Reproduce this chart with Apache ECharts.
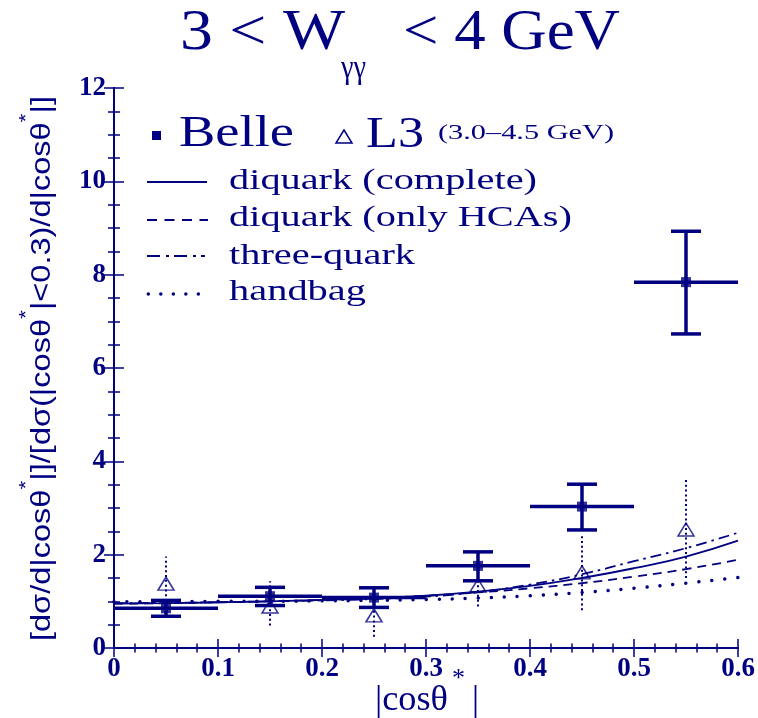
<!DOCTYPE html>
<html>
<head>
<meta charset="utf-8">
<script src="https://cdn.jsdelivr.net/npm/echarts@6/dist/echarts.min.js"></script>
<style>
  html, body { margin: 0; padding: 0; background: #ffffff; }
  #chart { width: 758px; height: 718px; }
</style>
</head>
<body>
<div id="chart"></div>
<script>
// ---- data -------------------------------------------------------------
// |cos theta*| bins (centres and half width)
const binCenters = [0.05, 0.15, 0.25, 0.35, 0.45, 0.55];
const binHalfWidth = 0.05;

// Belle normalised cross section with error band
const belleY    = [0.85, 1.11, 1.08, 1.76, 3.03, 7.84];
const belleLow  = [0.68, 0.91, 0.87, 1.44, 2.53, 6.73];
const belleHigh = [1.02, 1.30, 1.29, 2.06, 3.51, 8.93];

// L3 (3.0-4.5 GeV)
const l3Y    = [1.38, 0.89, 0.70, 1.34, 1.62, 2.54];
const l3Low  = [0.80, 0.48, 0.24, 0.89, 0.81, 1.50];
const l3High = [1.96, 1.43, 1.10, 1.75, 2.43, 3.66];

// theory curves sampled in |cos theta*|
const curveX          = [0, 0.05, 0.1, 0.15, 0.2, 0.25, 0.3, 0.35, 0.4, 0.45, 0.5, 0.55, 0.6];
const diquarkComplete = [0.95, 0.96, 0.98, 1.00, 1.03, 1.06, 1.12, 1.21, 1.33, 1.50, 1.71, 1.96, 2.30];
const diquarkHCA      = [0.95, 0.96, 0.98, 1.00, 1.03, 1.07, 1.12, 1.19, 1.28, 1.39, 1.53, 1.69, 1.89];
const threeQuark      = [0.96, 0.97, 0.98, 1.00, 1.02, 1.05, 1.10, 1.20, 1.36, 1.58, 1.86, 2.14, 2.47];
const handbag         = [0.99, 0.99, 1.00, 1.00, 1.01, 1.02, 1.04, 1.07, 1.12, 1.19, 1.28, 1.39, 1.51];

// tick labels
const xTickLabels = ['0', '0.1', '0.2', '0.3', '0.4', '0.5', '0.6'];
const yTickLabels = ['0', '2', '4', '6', '8', '10', '12'];

// ---- styling helpers ----------------------------------------------------
const NAVY = '#000080';
const SERIF = '"Liberation Serif", "Times New Roman", serif';
const SANS = '"Liberation Sans", Arial, sans-serif';

const mctx = document.createElement('canvas').getContext('2d');
function textWidth(str, size, family, weight) {
  mctx.font = (weight || 'normal') + ' ' + size + 'px ' + family;
  return mctx.measureText(str).width;
}
// text placed by left edge and baseline, optionally stretched horizontally to a width
function fitText(str, size, family, left, baseline, width) {
  const w = textWidth(str, size, family);
  return {
    type: 'text', x: left, y: baseline - 0.3375 * size, scaleX: width ? width / w : 1, silent: true,
    style: { text: str, fontSize: size, fontFamily: family, fill: NAVY, align: 'left', verticalAlign: 'middle' }
  };
}

// rotated y-axis title with superscript asterisks
function yAxisTitle() {
  const mainSize = 27, supSize = 19;
  const pieces = [
    ['[dσ/d|cosθ', 0], ['*', 1], ['|]/[dσ(|cosθ', 0], ['*', 1],
    ['|<0.3)/d|cosθ', 0], ['*', 1], ['|]', 0]
  ];
  let cursor = 0;
  const children = [];
  pieces.forEach(([s, sup]) => {
    const size = sup ? supSize : mainSize;
    const w = textWidth(s, size, SANS);
    children.push({
      type: 'text', x: cursor, y: sup ? -16 : 0, silent: true,
      style: { text: s, fontSize: size, fontFamily: SANS, fill: NAVY, align: 'left', verticalAlign: 'middle' }
    });
    cursor += w;
  });
  return { type: 'group', x: 43, y: 641, rotation: Math.PI / 2, scaleX: 545 / cursor, children };
}

// legend sample line
function sampleLine(x1, x2, y, type, width, cap) {
  return {
    type: 'line', silent: true,
    shape: { x1, y1: y, x2, y2: y },
    style: { stroke: NAVY, lineWidth: width, lineDash: type, lineCap: cap || 'butt' }
  };
}

const graphicElements = [
  // title: 3 < W_γγ < 4 GeV
  fitText('3 < W', 56, SERIF, 180, 53, 165),
  fitText('γγ', 33, SERIF, 341, 80, 25),
  fitText('< 4 GeV', 56, SERIF, 403, 53, 217),

  // legend header
  { type: 'rect', silent: true, shape: { x: 152, y: 131, width: 9, height: 9 }, style: { fill: NAVY } },
  fitText('Belle', 44, SERIF, 179, 149, 115),
  { type: 'polygon', silent: true, shape: { points: [[336, 143], [352, 143], [344, 130]] },
    style: { fill: 'none', stroke: NAVY, lineWidth: 1.5 } },
  fitText('L3', 44, SERIF, 366, 150, 58),
  fitText('(3.0–4.5 GeV)', 21, SERIF, 438, 141, 176),

  // legend rows for the curves
  sampleLine(147, 207, 182, null, 2),
  fitText('diquark (complete)', 30, SERIF, 229, 191.7, 308),
  sampleLine(147, 208, 220, [10, 7.5], 2),
  fitText('diquark (only HCAs)', 30, SERIF, 229, 228.3, 343),
  sampleLine(147, 205, 256, [13, 6, 3, 5], 2),
  fitText('three-quark', 30, SERIF, 229, 266, 186),
  sampleLine(148.3, 200, 294, [0.01, 12.5], 3.5, 'round'),
  fitText('handbag', 30, SERIF, 229, 302.3, 137),

  // x-axis title |cosθ*|
  fitText('|cosθ', 36, SERIF, 375, 713, 73),
  fitText('*', 26, SERIF, 452, 688, 13),
  fitText('|', 36, SERIF, 472, 713, 7),

  yAxisTitle()
];

// ---- series ----------------------------------------------------------
function curveData(ys) { return curveX.map((x, i) => [x, ys[i]]); }

function lineSeries(name, ys, style) {
  return {
    name, type: 'line', data: curveData(ys), smooth: true, symbol: 'none',
    z: 2, silent: true, lineStyle: Object.assign({ color: NAVY }, style)
  };
}

const belleBars = binCenters.map((x, i) => [x, belleY[i], belleLow[i], belleHigh[i], binHalfWidth]);
const l3Bars = binCenters.map((x, i) => [x, l3Y[i], l3Low[i], l3High[i]]);

function renderBelle(params, api) {
  const x = api.value(0), y = api.value(1), lo = api.value(2), hi = api.value(3), hw = api.value(4);
  const pL = api.coord([x - hw, y]), pR = api.coord([x + hw, y]);
  const pLo = api.coord([x, lo]), pHi = api.coord([x, hi]);
  const cap = 15;
  const st = { stroke: NAVY, lineWidth: 3.5 };
  return {
    type: 'group',
    children: [
      { type: 'line', shape: { x1: pL[0], y1: pL[1], x2: pR[0], y2: pR[1] }, style: st },
      { type: 'line', shape: { x1: pLo[0], y1: pLo[1], x2: pHi[0], y2: pHi[1] }, style: st },
      { type: 'line', shape: { x1: pLo[0] - cap, y1: pLo[1], x2: pLo[0] + cap, y2: pLo[1] }, style: st },
      { type: 'line', shape: { x1: pHi[0] - cap, y1: pHi[1], x2: pHi[0] + cap, y2: pHi[1] }, style: st }
    ]
  };
}

function renderL3(params, api) {
  const x = api.value(0), lo = api.value(2), hi = api.value(3);
  const pLo = api.coord([x, lo]), pHi = api.coord([x, hi]);
  return {
    type: 'line',
    shape: { x1: pLo[0], y1: pLo[1], x2: pHi[0], y2: pHi[1] },
    style: { stroke: NAVY, lineWidth: 2, lineDash: [2, 2.8] }
  };
}

const tickStyle = { color: NAVY, width: 1.5 };
const labelStyle = { color: NAVY, fontFamily: SERIF, fontWeight: 'bold', fontSize: 27 };

// frame axis: a main axis (with or without labels) or a minor-tick-only axis
function xFrame(position, interval, tickLen, labels) {
  return {
    type: 'value', min: 0, max: 0.6, interval, position,
    axisLine: { show: true, lineStyle: { color: NAVY, width: 2 } },
    axisTick: { show: true, inside: true, length: tickLen, lineStyle: tickStyle },
    splitLine: { show: false },
    axisLabel: labels
      ? Object.assign({ margin: 8, formatter: v => xTickLabels[Math.round(v / 0.1)] }, labelStyle)
      : { show: false }
  };
}
function yFrame(position, interval, tickLen, labels) {
  return {
    type: 'value', min: 0, max: 12, interval, position,
    axisLine: { show: true, lineStyle: { color: NAVY, width: 2 } },
    axisTick: { show: true, inside: true, length: tickLen, lineStyle: tickStyle },
    splitLine: { show: false },
    axisLabel: labels
      ? Object.assign({ margin: 8, formatter: v => yTickLabels[Math.round(v / 2)] }, labelStyle)
      : { show: false }
  };
}

const option = {
  backgroundColor: '#ffffff',
  animation: false,
  grid: { left: 114, right: 20, top: 88, bottom: 70 },
  xAxis: [
    xFrame('bottom', 0.1, 9, true),
    xFrame('top', 0.1, 9, false),
    xFrame('bottom', 0.02, 4.5, false),
    xFrame('top', 0.02, 4.5, false)
  ],
  yAxis: [
    yFrame('left', 2, 10, true),
    yFrame('right', 2, 10, false),
    yFrame('left', 0.5, 6, false),
    yFrame('right', 0.5, 6, false)
  ],
  series: [
    lineSeries('diquark (complete)', diquarkComplete, { width: 1.8, type: 'solid' }),
    lineSeries('diquark (only HCAs)', diquarkHCA, { width: 1.8, type: [9, 6] }),
    lineSeries('three-quark', threeQuark, { width: 1.8, type: [11, 5, 2.5, 5] }),
    lineSeries('handbag', handbag, { width: 3.5, type: [0.01, 13], cap: 'round' }),
    {
      name: 'L3 errors', type: 'custom', renderItem: renderL3, data: l3Bars,
      encode: { x: 0, y: 1 }, z: 3, silent: true
    },
    {
      name: 'L3', type: 'scatter', data: binCenters.map((x, i) => [x, l3Y[i]]),
      symbol: 'triangle', symbolSize: [16, 13], z: 4, silent: true,
      itemStyle: { color: 'rgba(0,0,0,0)', borderColor: NAVY, borderWidth: 1.5 }
    },
    {
      name: 'Belle errors', type: 'custom', renderItem: renderBelle, data: belleBars,
      encode: { x: 0, y: 1 }, z: 5, silent: true
    },
    {
      name: 'Belle', type: 'scatter', data: binCenters.map((x, i) => [x, belleY[i]]),
      symbol: 'rect', symbolSize: 10, z: 6, silent: true,
      itemStyle: { color: NAVY }
    }
  ],
  graphic: { elements: graphicElements }
};

const chart = echarts.init(document.getElementById('chart'), null, { renderer: 'canvas' });
chart.setOption(option);
</script>
</body>
</html>
